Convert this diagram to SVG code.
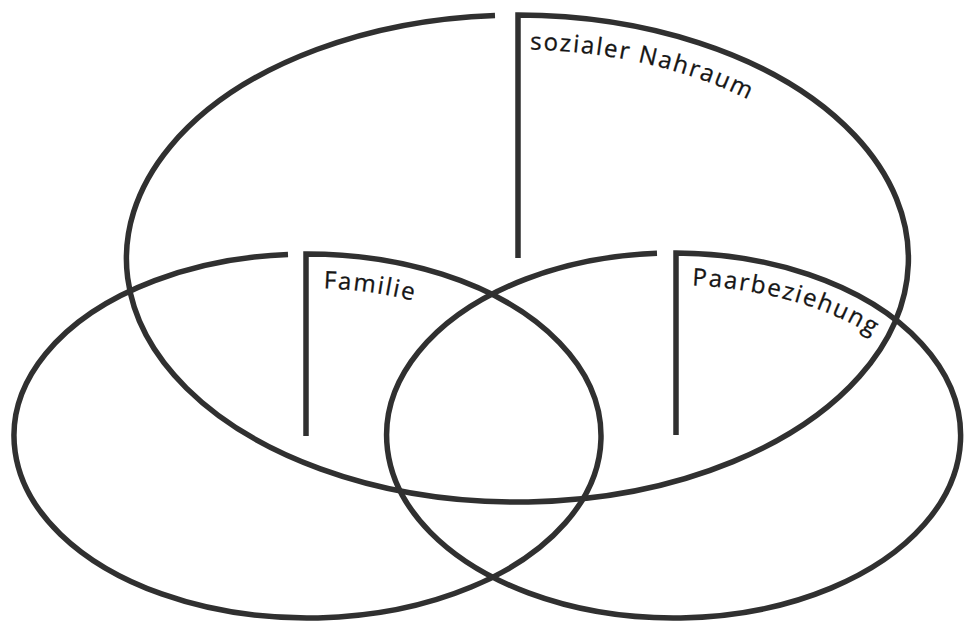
<svg xmlns="http://www.w3.org/2000/svg" width="964" height="625" viewBox="0 0 964 625">
  <style>
    .ring { fill: none; stroke: #303030; stroke-width: 5.5; stroke-linejoin: miter; stroke-linecap: butt; }
    .lbl { font-family: "Open Sans", "Noto Sans", "DejaVu Sans", sans-serif; font-size: 24px; fill: #151515; letter-spacing: 1.8px; stroke: #151515; stroke-width: 0.3; }
  </style>
  <defs>
    <path id="p-top" d="M517,49.5 A356,209 0 0 1 873,258.5"/>
    <path id="p-left" d="M307.5,288 A260,148 0 0 1 567.5,436"/>
    <path id="p-right" d="M672,285 A268,150.5 0 0 1 940,435.5"/>
  </defs>
  <rect width="964" height="625" fill="#ffffff"/>
  <g id="sozialer-nahraum">
    <path class="ring" d="M518,258 L518,15 A391,243.5 0 1 1 495,15.4"/>
    <text class="lbl"><textPath href="#p-top" startOffset="13">sozialer Nahraum</textPath></text>
  </g>
  <g id="familie">
    <path class="ring" d="M306,436 L306,254 A293.5,182 0 1 1 288,254.4"/>
    <text class="lbl"><textPath href="#p-left" startOffset="16">Familie</textPath></text>
  </g>
  <g id="paarbeziehung">
    <path class="ring" d="M676,435 L676,253 A287,182.5 0 1 1 657,253.3"/>
    <text class="lbl"><textPath href="#p-right" startOffset="20">Paarbeziehung</textPath></text>
  </g>
  <g id="connectors"></g>
</svg>
